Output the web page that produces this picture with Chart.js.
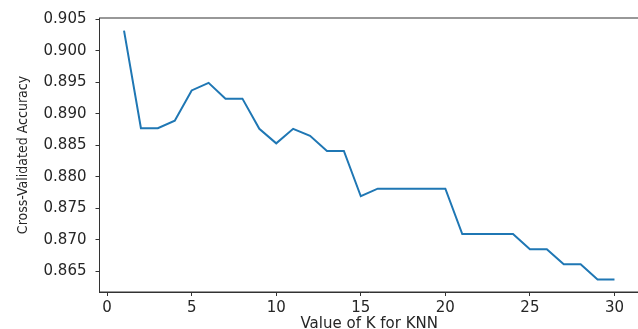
<!DOCTYPE html>
<html>
<head>
<meta charset="utf-8">
<script src="https://cdn.jsdelivr.net/npm/chart.js@4.4.0/dist/chart.umd.min.js"></script>
<style>
  html, body { margin: 0; padding: 0; background: #fff; overflow: hidden; }
  #wrap { width: 641px; height: 333px; position: relative; }
</style>
</head>
<body>
<div id="wrap"><canvas id="knnChart"></canvas></div>
<script>
const kValues = [1, 2, 3, 4, 5, 6, 7, 8, 9, 10, 11, 12, 13, 14, 15,
  16, 17, 18, 19, 20, 21, 22, 23, 24, 25, 26, 27, 28, 29, 30];
const accuracy = [0.9032, 0.8877, 0.8877, 0.8889, 0.8937, 0.8949, 0.8924, 0.8924, 0.8876, 0.8853,
  0.8876, 0.8865, 0.8841, 0.8841, 0.8769, 0.8781, 0.8781, 0.8781, 0.8781, 0.8781,
  0.8709, 0.8709, 0.8709, 0.8709, 0.8685, 0.8685, 0.8661, 0.8661, 0.8637, 0.8637];
const xTicks = [0, 5, 10, 15, 20, 25, 30];
const yTicks = [0.865, 0.870, 0.875, 0.880, 0.885, 0.890, 0.895, 0.900, 0.905];

Chart.defaults.font.family = "DejaVu Sans";
Chart.defaults.color = "#262626";

// matplotlib style box around the plot
const frame = {
  id: "frame",
  afterDraw(chart) {
    const { ctx, chartArea: a } = chart;
    ctx.save();
    ctx.strokeStyle = "#333";
    ctx.lineWidth = 1;
    ctx.strokeRect(a.left, a.top, a.right - a.left, a.bottom - a.top);
    ctx.restore();
  },
};

document.addEventListener("DOMContentLoaded", () => {
  const ctx = document.getElementById("knnChart").getContext("2d");
  new Chart(ctx, {
    type: "line",
    data: {
      datasets: [
        {
          data: kValues.map((k, i) => ({ x: k, y: accuracy[i] })),
          borderColor: "#1f77b4",
          borderWidth: 2,
          pointRadius: 0,
          tension: 0,
          fill: false,
        },
      ],
    },
    options: {
      responsive: true,
      maintainAspectRatio: false,
      animation: false,
      layout: { padding: { top: 17, right: 2, left: 0, bottom: 0 } },
      plugins: { legend: { display: false }, tooltip: { enabled: false } },
      scales: {
        x: {
          type: "linear",
          min: -0.45,
          max: 31.45,
          afterBuildTicks: (s) => { s.ticks = xTicks.map((v) => ({ value: v })); },
          afterFit: (s) => { s.height = 41; },
          ticks: { font: { size: 15 }, padding: 3, maxRotation: 0 },
          grid: { drawOnChartArea: false, tickLength: 4, tickColor: "#333" },
          border: { color: "#333" },
          title: { display: true, text: "Value of K for KNN", font: { size: 15 }, padding: 0 },
        },
        y: {
          min: 0.8617,
          max: 0.9052,
          afterBuildTicks: (s) => { s.ticks = yTicks.map((v) => ({ value: v })); },
          afterFit: (s) => { s.width = 99.5; },
          ticks: { font: { size: 15 }, padding: 9, callback: (v) => v.toFixed(3) },
          grid: { drawOnChartArea: false, tickLength: 4, tickColor: "#333" },
          border: { color: "#333" },
          title: {
            display: true,
            text: "Cross-Validated Accuracy",
            font: { family: "DejaVu Sans Condensed", size: 14 },
            padding: { top: 15, bottom: 0 },
          },
        },
      },
    },
    plugins: [frame],
  });
});
</script>
</body>
</html>
